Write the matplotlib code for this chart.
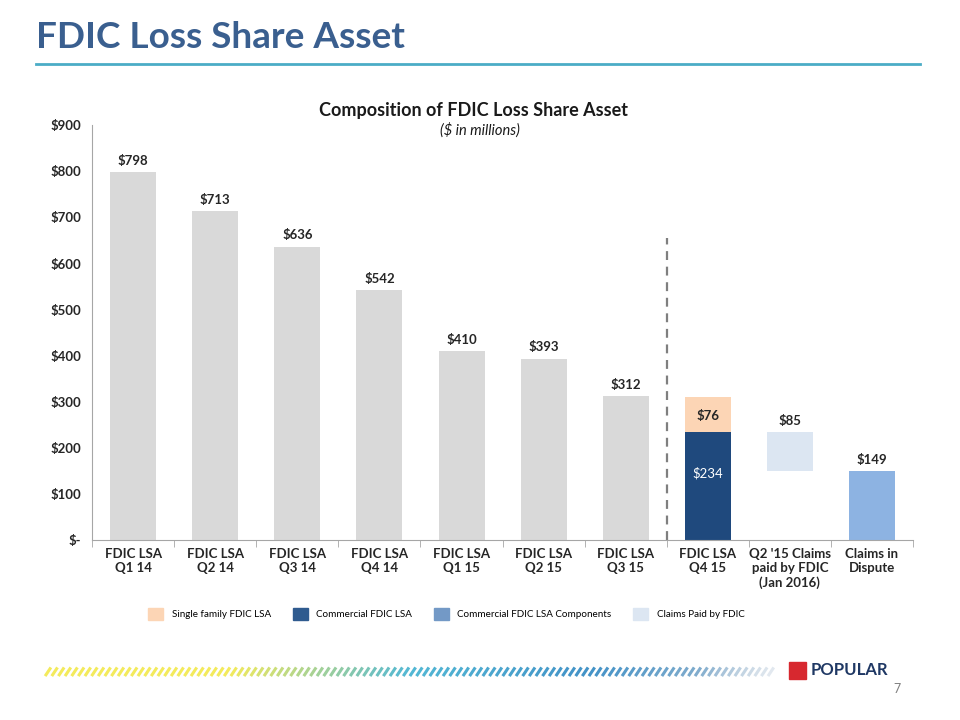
import numpy as np
import matplotlib.pyplot as plt
from matplotlib.patches import Patch, Rectangle
from matplotlib.lines import Line2D
from matplotlib.colors import LinearSegmentedColormap

plt.rcParams['font.family'] = ['Lato', 'DejaVu Sans']

categories = ["FDIC LSA\nQ1 14", "FDIC LSA\nQ2 14", "FDIC LSA\nQ3 14", "FDIC LSA\nQ4 14",
              "FDIC LSA\nQ1 15", "FDIC LSA\nQ2 15", "FDIC LSA\nQ3 15", "FDIC LSA\nQ4 15",
              "Q2 '15 Claims\npaid by FDIC\n(Jan 2016)", "Claims in\nDispute"]
history = [798, 713, 636, 542, 410, 393, 312]
commercial_q4 = 234
single_family_q4 = 76
claims_paid = 85
claims_dispute = 149
yticks = [0, 100, 200, 300, 400, 500, 600, 700, 800, 900]
ytick_labels = ["$-", "$100", "$200", "$300", "$400", "$500", "$600", "$700", "$800", "$900"]

GREY = "#d9d9d9"
NAVY = "#1f497d"
PEACH = "#fcd5b5"
PALE = "#dce6f2"
SKY = "#8db3e2"

fig = plt.figure(figsize=(9.6, 7.2), dpi=100)

# slide header
fig.text(0.037, 0.948, "FDIC Loss Share Asset", fontsize=26.6, fontweight="bold",
         color="#3a5f8f", va="center", ha="left")
fig.add_artist(Line2D([0.038, 0.958], [0.911, 0.911], color="#4bacc6", lw=2))

ax = fig.add_axes([0.096, 0.25, 0.855, 0.576])
x = np.arange(len(categories))
w = 0.56

ax.bar(x[:7], history, width=w, color=GREY)
for xi, v in zip(x[:7], history):
    ax.text(xi, v + 12, f"${v}", ha="center", va="bottom", fontsize=9.5, fontweight="bold", color="#262626")

# Q4 15 stacked
ax.bar(x[7], commercial_q4, width=w, color=NAVY)
ax.bar(x[7], single_family_q4, bottom=commercial_q4, width=w, color=PEACH)
ax.text(x[7], 145, f"${commercial_q4}", ha="center", va="center", fontsize=9.5, color="white")
ax.text(x[7], commercial_q4 + single_family_q4 / 2 - 2, f"${single_family_q4}", ha="center", va="center",
        fontsize=9.5, fontweight="bold", color="#262626")

# floating claims paid
ax.bar(x[8], claims_paid, bottom=claims_dispute, width=w, color=PALE)
ax.text(x[8], claims_dispute + claims_paid + 12, f"${claims_paid}", ha="center", va="bottom",
        fontsize=9.5, fontweight="bold", color="#262626")

ax.bar(x[9], claims_dispute, width=w, color=SKY)
ax.text(x[9], claims_dispute + 12, f"${claims_dispute}", ha="center", va="bottom",
        fontsize=9.5, fontweight="bold", color="#262626")

# divider
ax.plot([6.5, 6.5], [0, 655], color="#7f7f7f", lw=1.6, ls=(0, (4, 3)))

ax.set_xlim(-0.5, len(categories) - 0.5)
ax.set_ylim(0, 900)
ax.set_yticks(yticks)
ax.set_yticklabels(ytick_labels, fontsize=9.5, fontweight="bold", color="#262626")
ax.tick_params(axis="y", length=0, pad=8)
ax.set_xticks(x)
ax.set_xticklabels(categories, fontsize=9.5, fontweight="bold", color="#262626")
ax.tick_params(axis="x", length=0, pad=6)
ax.set_xticks(np.arange(-0.5, len(categories), 1), minor=True)
ax.tick_params(axis="x", which="minor", length=5, color="#a6a6a6")
for s in ["top", "right"]:
    ax.spines[s].set_visible(False)
ax.spines["left"].set_color("#a6a6a6")
ax.spines["bottom"].set_color("#a6a6a6")

ax.text(0.465, 1.036, "Composition of FDIC Loss Share Asset", transform=ax.transAxes, ha="center",
        va="center", fontsize=13, fontweight="bold", color="#1a1a1a")
ax.text(0.472, 0.988, "($ in millions)", transform=ax.transAxes, ha="center", va="center",
        fontsize=10.5, style="italic", color="#1a1a1a")

handles = [Patch(color=PEACH), Patch(color="#2f5b8f"), Patch(color="#7399c6"), Patch(color=PALE)]
labels = ["Single family FDIC LSA", "Commercial FDIC LSA", "Commercial FDIC LSA Components", "Claims Paid by FDIC"]
fig.legend(handles, labels, loc="center", bbox_to_anchor=(0.465, 0.147), ncol=4, frameon=False,
           fontsize=7.15, handlelength=1.5, handleheight=1.5, columnspacing=2.2, handletextpad=0.85)

# footer stripes
cmap = LinearSegmentedColormap.from_list("stripe", ["#f2e84a", "#f2e84a", "#3fb0d0", "#2e86c1", "#9fb6cc"])
n_stripes = 110
xs = np.linspace(0.047, 0.80, n_stripes)
for i, xs0 in enumerate(xs):
    frac = i / (n_stripes - 1)
    alpha = 0.9 if frac < 0.9 else 0.9 - (frac - 0.9) * 6
    fig.add_artist(Line2D([xs0, xs0 + 0.006], [0.061, 0.073], color=cmap(frac), lw=2.2,
                          alpha=max(alpha, 0.2), solid_capstyle="butt"))

# logo
fig.add_artist(Rectangle((0.822, 0.057), 0.018, 0.024, color="#d7282f"))
fig.text(0.844, 0.069, "POPULAR", fontsize=12, fontweight="bold", color="#1f3864", va="center")
fig.text(0.938, 0.043, "7", fontsize=9, color="#7f7f7f", ha="right", va="center")

fig.savefig("out.png", dpi=100)
